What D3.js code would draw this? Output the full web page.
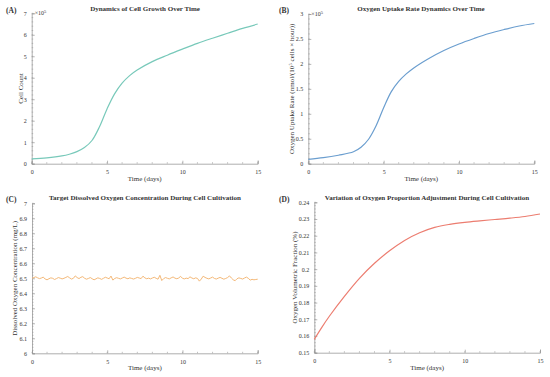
<!DOCTYPE html>
<html>
<head>
<meta charset="utf-8">
<script src="https://cdn.jsdelivr.net/npm/d3@7/dist/d3.min.js"></script>
<style>
  body { margin: 0; background: #fff; }
  text { font-family: "Liberation Serif", "DejaVu Serif", serif; fill: #333; }
</style>
</head>
<body>
<svg id="chart" width="550" height="377"></svg>
<script>
// panel A: cell count (x 10^5)
var cellDays = [0, 1, 2, 2.5, 3, 3.5, 4, 4.5, 5, 5.5, 6, 6.5, 7, 8, 9, 10, 11, 12, 13, 14, 15];
var cellCount = [0.22, 0.27, 0.36, 0.44, 0.56, 0.75, 1.08, 1.72, 2.55, 3.25, 3.75, 4.1, 4.36, 4.75, 5.05, 5.33, 5.6, 5.84, 6.07, 6.3, 6.5];

// panel B: oxygen uptake rate (x 10^5)
var ourDays = [0, 1, 2, 3, 3.5, 4, 4.5, 5, 5.5, 6, 6.5, 7, 8, 9, 10, 11, 12, 13, 14, 15];
var ourValues = [0.087, 0.12, 0.17, 0.24, 0.33, 0.49, 0.76, 1.12, 1.44, 1.65, 1.8, 1.92, 2.11, 2.27, 2.4, 2.51, 2.61, 2.69, 2.76, 2.81];

// panel C: dissolved oxygen, sampled every 1/8 day
var doValues = [
  6.500,6.505,6.510,6.503,6.498,6.502,6.508,6.495,6.490,6.497,6.503,6.500,6.492,6.498,6.505,6.501,
  6.496,6.500,6.506,6.512,6.503,6.495,6.500,6.516,6.505,6.498,6.507,6.511,6.500,6.494,6.499,6.505,
  6.497,6.490,6.496,6.503,6.499,6.493,6.500,6.507,6.502,6.497,6.515,6.488,6.499,6.504,6.500,6.496,
  6.502,6.508,6.501,6.497,6.503,6.499,6.495,6.500,6.506,6.502,6.498,6.514,6.503,6.497,6.501,6.496,
  6.502,6.507,6.500,6.494,6.520,6.485,6.498,6.505,6.500,6.496,6.503,6.509,6.501,6.497,6.502,6.513,
  6.500,6.496,6.501,6.498,6.510,6.502,6.497,6.503,6.499,6.481,6.495,6.514,6.506,6.500,6.496,6.502,
  6.508,6.499,6.495,6.501,6.506,6.500,6.494,6.499,6.505,6.516,6.502,6.490,6.484,6.497,6.503,6.499,
  6.495,6.502,6.508,6.500,6.488,6.493,6.490,6.492,6.494
];

// panel D: oxygen volumetric fraction
var fracDays = [0, 0.5, 1, 2, 3, 4, 5, 6, 7, 8, 9, 10, 11, 12, 13, 14, 15];
var fracValues = [0.158, 0.1652, 0.1718, 0.1837, 0.1945, 0.2035, 0.211, 0.2172, 0.2218, 0.225, 0.2268, 0.228, 0.2289, 0.2297, 0.2305, 0.2315, 0.233];

var svg = d3.select("#chart");
var axisColor = "#999";

function fmt(d) { return String(+d.toFixed(3)); }

function drawPanel(cfg) {
  var g = svg.append("g");
  var x = d3.scaleLinear().domain([0, 15]).range([cfg.x0, cfg.x1]);
  var y = d3.scaleLinear().domain(cfg.yDomain).range([cfg.y0, cfg.y1]);

  // minor ticks
  var xMinor = d3.range(0, 15.001, 1);
  var yMinor = d3.range(cfg.yDomain[0], cfg.yDomain[1] + cfg.yMinorStep / 2, cfg.yMinorStep);
  g.selectAll(".xm").data(xMinor).enter().append("line")
    .attr("x1", function (d) { return x(d); }).attr("x2", function (d) { return x(d); })
    .attr("y1", cfg.y0).attr("y2", cfg.y0 - 1.5)
    .attr("stroke", axisColor).attr("stroke-width", 0.6);
  g.selectAll(".ym").data(yMinor).enter().append("line")
    .attr("y1", function (d) { return y(d); }).attr("y2", function (d) { return y(d); })
    .attr("x1", cfg.x0).attr("x2", cfg.x0 + 1.5)
    .attr("stroke", axisColor).attr("stroke-width", 0.6);

  var xAxis = g.append("g").attr("transform", "translate(0," + cfg.y0 + ")")
    .call(d3.axisBottom(x).tickValues([0, 5, 10, 15]).tickSize(-3).tickPadding(6).tickFormat(fmt));
  var yAxis = g.append("g").attr("transform", "translate(" + cfg.x0 + ",0)")
    .call(d3.axisLeft(y).tickValues(cfg.yTicks).tickSize(-3).tickPadding(5).tickFormat(fmt));
  [xAxis, yAxis].forEach(function (a) {
    a.select(".domain").attr("stroke", axisColor).attr("stroke-width", 0.8);
    a.selectAll(".tick line").attr("stroke", axisColor).attr("stroke-width", 0.7);
    a.selectAll(".tick text").attr("fill", "#444").style("font-size", "6px")
      .style("font-family", "Liberation Serif");
  });

  var line = d3.line()
    .x(function (d) { return x(d[0]); })
    .y(function (d) { return y(d[1]); })
    .curve(cfg.curve);
  g.append("path").datum(cfg.data)
    .attr("fill", "none").attr("stroke", cfg.color).attr("stroke-width", cfg.width || 1.2)
    .attr("d", line);

  // panel letter and title
  g.append("text").attr("x", cfg.letterX).attr("y", cfg.titleY + 2)
    .style("font-size", "7.5px").style("font-weight", "bold").text(cfg.letter);
  g.append("text").attr("x", cfg.titleX).attr("y", cfg.titleY)
    .attr("text-anchor", "middle").style("font-size", "7px").style("font-weight", "bold")
    .text(cfg.title);

  g.append("text").attr("x", (cfg.x0 + cfg.x1) / 2).attr("y", cfg.xLabelY)
    .attr("text-anchor", "middle").style("font-size", "7px").attr("fill", "#444")
    .text("Time (days)");

  var yl = g.append("text")
    .attr("transform", "translate(" + cfg.yLabelX + "," + ((cfg.y0 + cfg.y1) / 2) + ") rotate(-90)")
    .attr("text-anchor", "middle").style("font-size", "7px").attr("fill", "#444");
  cfg.yLabel.forEach(function (part) {
    var t = yl.append("tspan").text(part.t);
    if (part.sup) t.attr("baseline-shift", "super").style("font-size", "5px");
  });

  if (cfg.exp) {
    var e = g.append("text").attr("x", cfg.x0 + 3).attr("y", cfg.y1 + 2)
      .style("font-size", "6px").attr("fill", "#555");
    e.append("tspan").text("\u00d710");
    e.append("tspan").attr("baseline-shift", "super").style("font-size", "4.5px").text("5");
  }
}

var smooth = d3.curveCatmullRom.alpha(0.5);

drawPanel({
  letter: "(A)", letterX: 6, title: "Dynamics of Cell Growth Over Time", titleX: 145, titleY: 11,
  x0: 31.7, x1: 257.7, y0: 163.7, y1: 13.3, yDomain: [0, 7], yTicks: d3.range(0, 8), yMinorStep: 0.2,
  data: d3.zip(cellDays, cellCount), color: "#78c9ba", curve: smooth,
  xLabelY: 181, yLabelX: 23, yLabel: [{ t: "Cell Count" }], exp: true
});

drawPanel({
  letter: "(B)", letterX: 279, title: "Oxygen Uptake Rate Dynamics Over Time", titleX: 421, titleY: 11,
  x0: 308.3, x1: 534.3, y0: 163.7, y1: 14, yDomain: [0, 3], yTicks: d3.range(0, 3.01, 0.5), yMinorStep: 0.1,
  data: d3.zip(ourDays, ourValues), color: "#6b9ecf", curve: smooth,
  xLabelY: 181, yLabelX: 294,
  yLabel: [{ t: "Oxygen Uptake Rate (nmol/(10" }, { t: "5", sup: true }, { t: " cells \u00d7 hour))" }],
  exp: true
});

drawPanel({
  letter: "(C)", letterX: 6, title: "Target Dissolved Oxygen Concentration During Cell Cultivation", titleX: 145, titleY: 200,
  x0: 32, x1: 257.7, y0: 353.3, y1: 203.3, yDomain: [6, 7], yTicks: d3.range(6, 7.001, 0.1), yMinorStep: 0.02,
  data: doValues.map(function (v, i) { return [i * 15 / (doValues.length - 1), v]; }),
  color: "#f4b877", curve: d3.curveLinear, width: 1,
  xLabelY: 370, yLabelX: 17, yLabel: [{ t: "Dissolved Oxygen Concentration (mg/L)" }]
});

drawPanel({
  letter: "(D)", letterX: 279, title: "Variation of Oxygen Proportion Adjustment During Cell Cultivation", titleX: 427, titleY: 200,
  x0: 314.3, x1: 540, y0: 352.7, y1: 202.3, yDomain: [0.15, 0.24], yTicks: d3.range(0.15, 0.2401, 0.01), yMinorStep: 0.002,
  data: d3.zip(fracDays, fracValues), color: "#ec7d70", curve: smooth,
  xLabelY: 370, yLabelX: 297, yLabel: [{ t: "Oxygen Volumetric Fraction (%)" }]
});
</script>
</body>
</html>
